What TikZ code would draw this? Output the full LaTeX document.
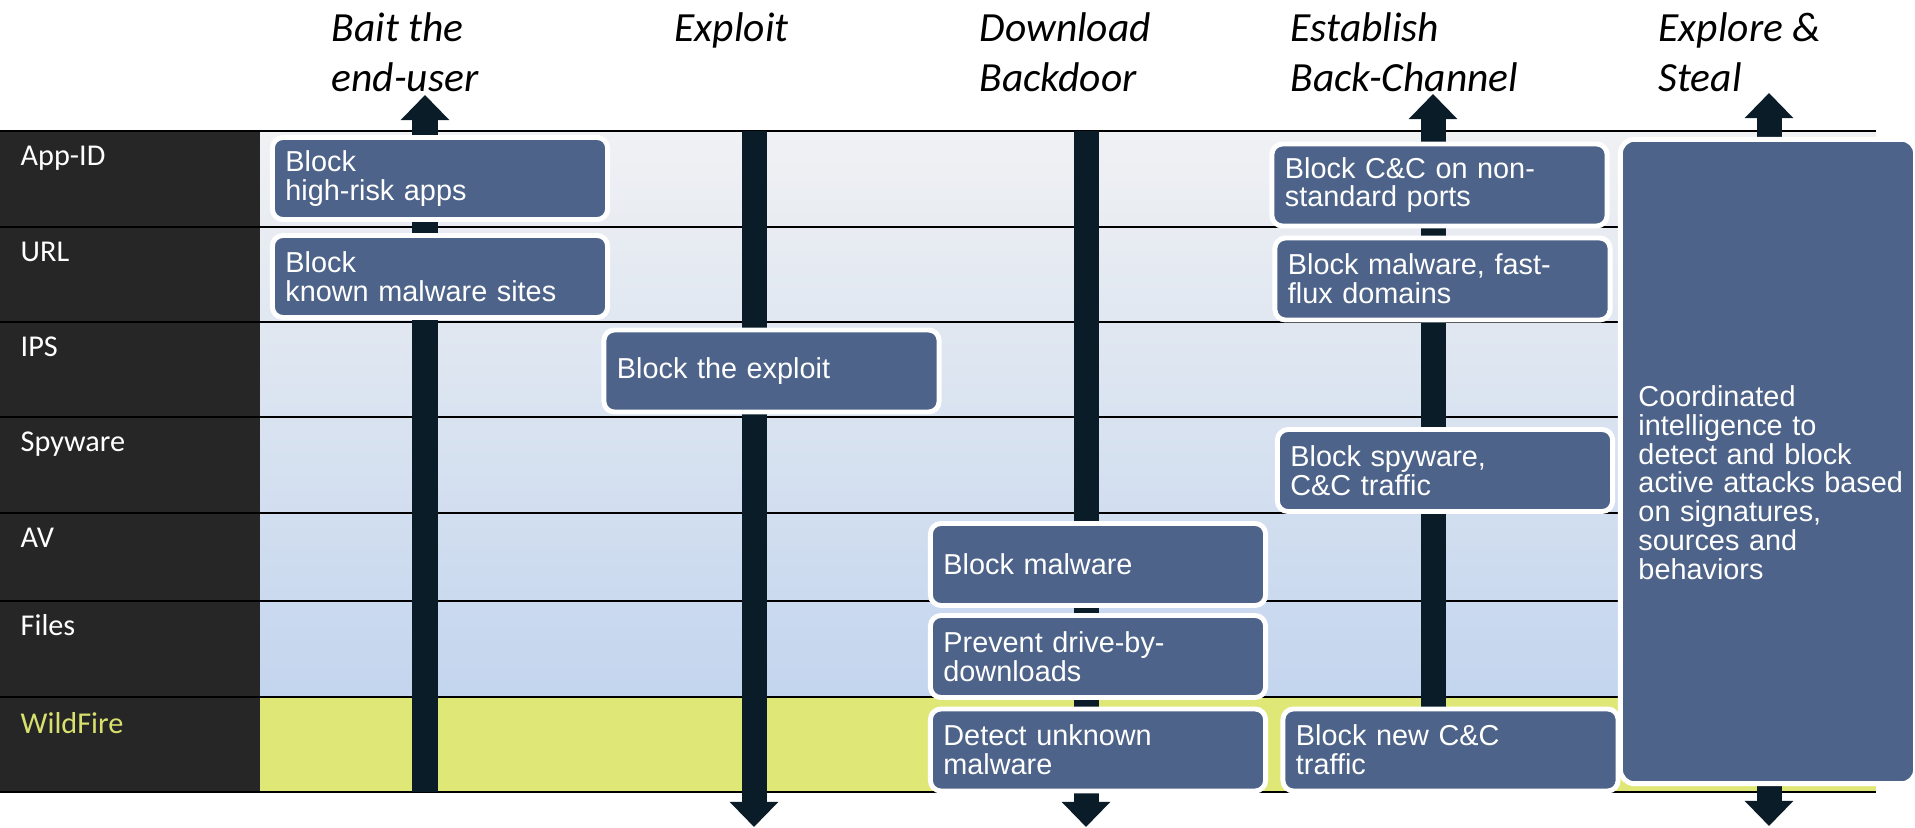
\documentclass[tikz,border=0pt]{standalone}
\usepackage{fontspec}
\setmainfont{Liberation Sans}
\newfontfamily\calfont{Carlito}
\usepackage{tikz}
\usetikzlibrary{arrows.meta,calc,positioning}

\definecolor{boxblue}{HTML}{4D6389}
\definecolor{arrowdark}{HTML}{0A1C28}
\definecolor{labeldark}{HTML}{262626}
\definecolor{wildfill}{HTML}{DFE777}
\definecolor{wildtext}{HTML}{D9E16E}
\definecolor{rowtop}{HTML}{F0F1F3}
\definecolor{rowbot}{HTML}{C3D5EE}

\tikzset{
  bigtip/.tip={Triangle[width=0.47cm,length=0.25cm]},
  stage/.style={font=\calfont\itshape\fontsize{11.8}{14.2}\selectfont, align=left, anchor=north west, inner sep=0pt},
  rowlabel/.style={font=\calfont\fontsize{8.6}{10}\selectfont, text=white, anchor=base west, inner sep=0pt},
  blk/.style={draw=white, line width=1.4pt, fill=boxblue, rounded corners=3pt, text=white,
    font=\fontsize{8.2}{8.2}\selectfont, align=left, text width=3.09cm, inner xsep=0.13cm, minimum height=0.82cm},
  timeline/.style={draw=arrowdark, line width=0.25cm},
  sepline/.style={line width=0.8pt, draw=black}
}

\begin{document}
\begin{tikzpicture}[x=0.01cm,y=-0.01cm]
\useasboundingbox (0,0) rectangle (1915,828);

% table background
\fill[labeldark] (0,131) rectangle (260,792);
\shade[top color=rowtop, bottom color=rowbot] (260,131) rectangle (1876,697);
\fill[wildfill] (260,697) rectangle (1876,792);
\foreach \y in {131,227,322,417,513,601,697,792}
  \draw[sepline] (0,\y) -- (1876,\y);

% row labels
\foreach \y/\lab [count=\i] in {166/App-ID,262/URL,357/IPS,452/Spyware,548/AV,636/Files}
  \node[rowlabel] (lab\i) at (20,\y) {\lab};
\node[rowlabel, text=wildtext] (lab7) at (20,734) {WildFire};

% stages
\node[stage] (bait) at (331,12) {Bait the\\end-user};
\node[stage] (exploit) at (674,12) {Exploit};
\node[stage] (download) at (979,12) {Download\\Backdoor};
\node[stage] (establish) at (1290,12) {Establish\\Back-Channel};
\node[stage] (explore) at (1658,12) {Explore \&\\Steal};

% timeline arrows
\coordinate (baitS) at (425,792);   \coordinate (baitE) at (425,95);
\coordinate (explS) at (754,131);   \coordinate (explE) at (754,827);
\coordinate (downS) at (1086,131);  \coordinate (downE) at (1086,827);
\coordinate (estS) at (1433,792);   \coordinate (estE) at (1433,94);
\coordinate (steaS) at (1769,826);  \coordinate (steaE) at (1769,93);
\draw[timeline,-bigtip] (baitS) -- (baitE);
\draw[timeline,-bigtip] (explS) -- (explE);
\draw[timeline,-bigtip] (downS) -- (downE);
\draw[timeline,-bigtip] (estS) -- (estE);
\draw[timeline,bigtip-bigtip] (steaS) -- (steaE);

% blocking boxes
\node[blk] (apps) at (440,178.5) {Block\\high-risk apps};
\node[blk] (sites) at (440,276.5) {Block\\known malware sites};
\node[blk] (exploitbox) at (771.5,371) {Block the exploit};
\node[blk] (malware) at (1098,564.5) {Block malware};
\node[blk] (drive) at (1098,656.5) {Prevent drive-by-\\downloads};
\node[blk] (unknown) at (1098,750) {Detect unknown\\malware};
\node[blk] (ports) at (1439.5,185) {Block C\&C on non-\\standard ports};
\node[blk] (flux) at (1442.5,279) {Block malware, fast-\\flux domains};
\node[blk] (spy) at (1445,470.5) {Block spyware,\\C\&C traffic};
\node[blk] (newcc) at (1450.5,750) {Block new C\&C\\traffic};
\node[blk, rounded corners=4pt, text width=2.69cm, minimum height=6.44cm] (intel) at (1768,461.5) {};
\node[blk, draw=none, fill=none, anchor=north west, inner sep=0pt, text width=2.7cm, minimum height=0pt] (inteltext) at (1636,383)
  {Coordinated\\intelligence to\\detect and block\\active attacks based\\on signatures,\\sources and\\behaviors};

\end{tikzpicture}
\end{document}
